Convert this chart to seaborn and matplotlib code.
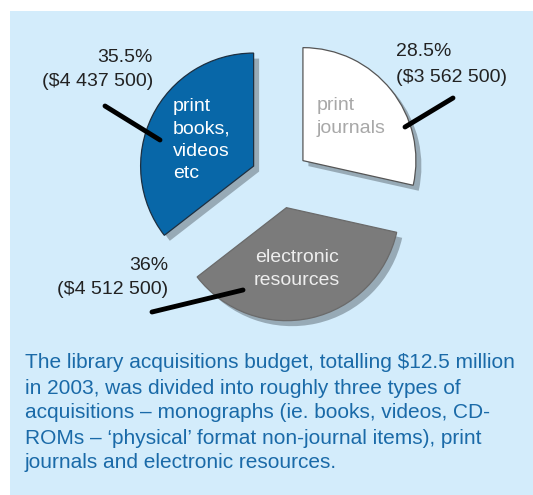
import matplotlib
matplotlib.use("Agg")
import matplotlib.pyplot as plt
import seaborn as sns
from matplotlib.patches import Rectangle

# data
categories = ["print books, videos etc", "electronic resources", "print journals"]
shares = [35.5, 36.0, 28.5]
amounts = ["($4 437 500)", "($4 512 500)", "($3 562 500)"]
pct_labels = ["35.5%", "36%", "28.5%"]
inner_labels = ["print\nbooks,\nvideos\netc", "electronic\nresources", "print\njournals"]

caption = [
    "The library acquisitions budget, totalling $12.5 million",
    "in 2003, was divided into roughly three types of",
    "acquisitions \u2013 monographs (ie. books, videos, CD-",
    "ROMs \u2013 \u2018physical\u2019 format non-journal items), print",
    "journals and electronic resources.",
]

sns.set_style("white")
plt.rcParams['font.family'] = ['Liberation Sans', 'DejaVu Sans']

colors = sns.color_palette(["#0867a8", "#7b7b7b", "#ffffff"])
bg = "#d3ecfb"

W, H = 533, 495
fig = plt.figure(figsize=(W / 100, H / 100), dpi=100)
fig.patch.set_facecolor("white")
fig.patches.append(Rectangle((10 / W, 0), 1, (H - 11) / H, transform=fig.transFigure,
                             facecolor=bg, edgecolor="none", zorder=-5))

# pie centre (px) and radius (px)
cx, cy, R = 280, 179, 113

ax = fig.add_axes([0, 0, 1, 1])
ax.set_zorder(2)
ax.patch.set_alpha(0)
wedges, _ = ax.pie(shares, colors=colors, startangle=90, counterclock=True,
                   explode=[0.26] * 3,
                   shadow=dict(ox=0.035, oy=-0.035, facecolor="#3d4850",
                               edgecolor="none", alpha=0.4),
                   wedgeprops=dict(linewidth=0.9))
for w, ec in zip(wedges, ["#1d2f40", "#6a6a6a", "#555555"]):
    w.set_edgecolor(ec)
ax.set_xlim(-cx / R, (W - cx) / R)
ax.set_ylim((cy - H) / R, cy / R)
ax.set_aspect("equal")
ax.axis("off")


def px(x, y):
    return (x - cx) / R, (cy - y) / R


fs = 14
# inner labels
ax.text(*px(173, 140), inner_labels[0], color="white", fontsize=fs, ha="left", va="center",
        linespacing=1.4)
ax.text(*px(297, 269), inner_labels[1], color="#eeeeee", fontsize=fs, ha="center", va="center",
        linespacing=1.4)
ax.text(*px(317, 117), inner_labels[2], color="#a8a8a8", fontsize=fs, ha="left", va="center",
        linespacing=1.4)

# outer labels
ax.text(*px(153, 58), pct_labels[0], fontsize=fs, ha="right", va="center", color="#222222")
ax.text(*px(153, 82), amounts[0], fontsize=fs, ha="right", va="center", color="#222222")
ax.text(*px(168, 265), pct_labels[1], fontsize=fs, ha="right", va="center", color="#222222")
ax.text(*px(168, 289), amounts[1], fontsize=fs, ha="right", va="center", color="#222222")
ax.text(*px(396, 52), pct_labels[2], fontsize=fs, ha="left", va="center", color="#222222")
ax.text(*px(396, 77), amounts[2], fontsize=fs, ha="left", va="center", color="#222222")

# leader lines
for (x0, y0), (x1, y1) in [((160, 140), (105, 106)), ((243, 290), (152, 312)),
                           ((405, 127), (453, 98))]:
    ax.annotate("", xy=px(x0, y0), xytext=px(x1, y1),
                arrowprops=dict(arrowstyle="-", color="black", lw=3.5, shrinkA=0, shrinkB=0))

# caption
for i, line in enumerate(caption):
    fig.text(25 / W, 1 - (363 + 25 * i) / H, line, fontsize=15, color="#1a6aa8",
             ha="left", va="center")

fig.savefig("out.png", dpi=100)
